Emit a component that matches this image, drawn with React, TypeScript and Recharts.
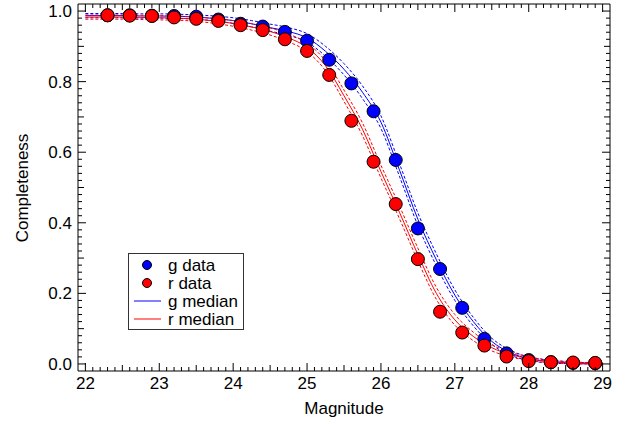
import React from 'react';
import { ComposedChart, Line, Scatter, XAxis, YAxis } from 'recharts';

// median completeness curves on a 0.25 mag grid
const magGrid = [
  22.0, 22.25, 22.5, 22.75, 23.0, 23.25, 23.5, 23.75, 24.0, 24.25, 24.5, 24.75, 25.0, 25.25, 25.5,
  25.75, 26.0, 26.25, 26.5, 26.75, 27.0, 27.25, 27.5, 27.75, 28.0, 28.25, 28.5, 28.75, 29.0,
];
const gMedian = [
  0.987, 0.987, 0.987, 0.986, 0.986, 0.985, 0.983, 0.979, 0.973, 0.964, 0.953, 0.942, 0.924, 0.886, 0.835,
  0.77, 0.685, 0.55, 0.41, 0.295, 0.195, 0.12, 0.064, 0.032, 0.015, 0.007, 0.004, 0.002, 0.001,
];
const gUpper = [
  0.993, 0.993, 0.993, 0.992, 0.992, 0.991, 0.989, 0.986, 0.981, 0.973, 0.963, 0.953, 0.936, 0.9, 0.851,
  0.788, 0.703, 0.568, 0.428, 0.312, 0.21, 0.132, 0.073, 0.039, 0.02, 0.011, 0.007, 0.004, 0.003,
];
const gLower = [
  0.981, 0.981, 0.981, 0.98, 0.98, 0.979, 0.977, 0.972, 0.965, 0.955, 0.943, 0.931, 0.912, 0.872, 0.819,
  0.752, 0.667, 0.532, 0.392, 0.278, 0.18, 0.108, 0.055, 0.025, 0.01, 0.003, 0.001, 0.0, 0.0,
];
const rMedian = [
  0.983, 0.983, 0.983, 0.982, 0.981, 0.98, 0.977, 0.972, 0.965, 0.955, 0.942, 0.924, 0.897, 0.845, 0.76,
  0.665, 0.545, 0.43, 0.31, 0.2, 0.125, 0.078, 0.046, 0.027, 0.015, 0.008, 0.004, 0.002, 0.001,
];
const rUpper = [
  0.989, 0.989, 0.989, 0.988, 0.987, 0.986, 0.983, 0.979, 0.973, 0.964, 0.952, 0.935, 0.909, 0.859, 0.776,
  0.683, 0.563, 0.448, 0.328, 0.217, 0.14, 0.09, 0.055, 0.034, 0.02, 0.012, 0.007, 0.004, 0.003,
];
const rLower = [
  0.977, 0.977, 0.977, 0.976, 0.975, 0.974, 0.971, 0.965, 0.957, 0.946, 0.932, 0.913, 0.885, 0.831, 0.744,
  0.647, 0.527, 0.412, 0.292, 0.183, 0.11, 0.066, 0.037, 0.02, 0.01, 0.004, 0.001, 0.0, 0.0,
];

// measured completeness per magnitude bin
const binMags = [
  22.3, 22.6, 22.9, 23.2, 23.5, 23.8, 24.1, 24.4, 24.7, 25.0, 25.3, 25.6,
  25.9, 26.2, 26.5, 26.8, 27.1, 27.4, 27.7, 28.0, 28.3, 28.6, 28.9,
];
const gData = [
  0.988, 0.988, 0.987, 0.986, 0.984, 0.976, 0.964, 0.956, 0.941, 0.916, 0.862, 0.795,
  0.716, 0.578, 0.384, 0.269, 0.159, 0.071, 0.03, 0.011, 0.005, 0.003, 0.002,
];
const rData = [
  0.988, 0.987, 0.986, 0.982, 0.978, 0.972, 0.96, 0.946, 0.92, 0.887, 0.819, 0.689,
  0.573, 0.453, 0.297, 0.148, 0.089, 0.052, 0.021, 0.008, 0.005, 0.004, 0.003,
];

const xMinorTicks = Array.from({ length: 71 }, (_, i) => (220 + i) / 10);
const yMinorTicks = Array.from({ length: 51 }, (_, i) => i / 50);

const FONT = '"Liberation Sans", Arial, Helvetica, sans-serif';
const FS = 17;
const AXIS = '#000';

const curveRows = magGrid.map((m, i) => ({
  mag: m,
  gMed: gMedian[i], gHi: gUpper[i], gLo: gLower[i],
  rMed: rMedian[i], rHi: rUpper[i], rLo: rLower[i],
}));
const gPoints = binMags.map((m, i) => ({ mag: m, val: gData[i] }));
const rPoints = binMags.map((m, i) => ({ mag: m, val: rData[i] }));

const near = (a: number, b: number) => Math.abs(a - b) < 1e-6;
const xLen = (v: number) => (near(v, Math.round(v)) ? 8 : near(v * 2, Math.round(v * 2)) ? 6 : 4);
const yLen = (v: number) => (near(v * 5, Math.round(v * 5)) ? 8 : near(v * 10, Math.round(v * 10)) ? 6 : 4);

const BottomTick = ({ x, y, payload }: any) => {
  const v = payload.value;
  const major = near(v, Math.round(v));
  return (
    <g>
      <line x1={x} x2={x} y1={y} y2={y - xLen(v)} stroke={AXIS} />
      {major && (
        <text x={x} y={y + 18} textAnchor="middle" fontSize={FS} fontFamily={FONT} fill="#000">
          {Math.round(v)}
        </text>
      )}
    </g>
  );
};
const TopTick = ({ x, y, payload }: any) => (
  <line x1={x} x2={x} y1={y} y2={y + xLen(payload.value)} stroke={AXIS} />
);
const LeftTick = ({ x, y, payload }: any) => {
  const v = payload.value;
  const major = near(v * 5, Math.round(v * 5));
  return (
    <g>
      <line x1={x} x2={x + yLen(v)} y1={y} y2={y} stroke={AXIS} />
      {major && (
        <text x={x - 6} y={y} dy="0.36em" textAnchor="end" fontSize={FS} fontFamily={FONT} fill="#000">
          {v.toFixed(1)}
        </text>
      )}
    </g>
  );
};
const RightTick = ({ x, y, payload }: any) => (
  <line x1={x} x2={x - yLen(payload.value)} y1={y} y2={y} stroke={AXIS} />
);

const dot = (fill: string) => (p: any) => (
  <circle cx={p.cx} cy={p.cy} r={6.5} fill={fill} stroke="#000" strokeWidth={1} />
);

const LEGEND = [
  { label: 'g data', color: '#0000ff', kind: 'dot' },
  { label: 'r data', color: '#ff0000', kind: 'dot' },
  { label: 'g median', color: '#0000ff', kind: 'line' },
  { label: 'r median', color: '#ff0000', kind: 'line' },
];

export default function App() {
  return (
    <div style={{ position: 'absolute', left: 0, top: 0, width: 629, height: 424, background: '#fff' }}>
      <ComposedChart
        width={629}
        height={424}
        data={curveRows}
        margin={{ top: 0, right: 0, bottom: 0, left: 0 }}
      >
        <XAxis
          dataKey="mag" type="number" domain={[21.9, 29.1]} allowDataOverflow
          ticks={xMinorTicks} interval={0} tickSize={0} tickMargin={0} tickLine={false}
          axisLine={{ stroke: AXIS }} height={53} tick={<BottomTick />}
        />
        <XAxis
          xAxisId="top" orientation="top" dataKey="mag" type="number" domain={[21.9, 29.1]} allowDataOverflow
          ticks={xMinorTicks} interval={0} tickSize={0} tickMargin={0} tickLine={false}
          axisLine={{ stroke: AXIS }} height={4} tick={<TopTick />}
        />
        <YAxis
          type="number" domain={[-0.02, 1.02]} allowDataOverflow
          ticks={yMinorTicks} interval={0} tickSize={0} tickMargin={0} tickLine={false}
          axisLine={{ stroke: AXIS }} width={78} tick={<LeftTick />}
        />
        <YAxis
          yAxisId="right" orientation="right" type="number" domain={[-0.02, 1.02]} allowDataOverflow
          ticks={yMinorTicks} interval={0} tickSize={0} tickMargin={0} tickLine={false}
          axisLine={{ stroke: AXIS }} width={19} tick={<RightTick />}
        />
        <Line dataKey="gHi" type="monotone" stroke="#0000ff" strokeWidth={1} strokeDasharray="3 2" dot={false} isAnimationActive={false} />
        <Line dataKey="gLo" type="monotone" stroke="#0000ff" strokeWidth={1} strokeDasharray="3 2" dot={false} isAnimationActive={false} />
        <Line dataKey="gMed" type="monotone" stroke="#0000ff" strokeWidth={1} dot={false} isAnimationActive={false} />
        <Line dataKey="rHi" type="monotone" stroke="#ff0000" strokeWidth={1} strokeDasharray="3 2" dot={false} isAnimationActive={false} />
        <Line dataKey="rLo" type="monotone" stroke="#ff0000" strokeWidth={1} strokeDasharray="3 2" dot={false} isAnimationActive={false} />
        <Line dataKey="rMed" type="monotone" stroke="#ff0000" strokeWidth={1} dot={false} isAnimationActive={false} />
        <Scatter data={gPoints} dataKey="val" shape={dot('#0000ff')} isAnimationActive={false} />
        <Scatter data={rPoints} dataKey="val" shape={dot('#ff0000')} isAnimationActive={false} />
      </ComposedChart>
      <svg width={629} height={424} style={{ position: 'absolute', left: 0, top: 0, pointerEvents: 'none' }}>
        <text x={344} y={414} textAnchor="middle" fontSize={FS} fontFamily={FONT} fill="#000">Magnitude</text>
        <text x={22} y={188} transform="rotate(-90 22 188)" textAnchor="middle" dy="0.36em" fontSize={FS} fontFamily={FONT} fill="#000">
          Completeness
        </text>
        <rect x={128.5} y={253.5} width={115} height={76} fill="#fff" stroke="#333" />
        {LEGEND.map((e, i) => {
          const cy = 265 + i * 18;
          return (
            <g key={e.label}>
              {e.kind === 'dot' ? (
                <circle cx={147} cy={cy} r={4.5} fill={e.color} stroke="#000" />
              ) : (
                <line x1={134} x2={161} y1={cy} y2={cy} stroke={e.color} />
              )}
              <text x={168} y={cy} dy="0.36em" fontSize={FS} fontFamily={FONT} fill="#000">{e.label}</text>
            </g>
          );
        })}
      </svg>
    </div>
  );
}
